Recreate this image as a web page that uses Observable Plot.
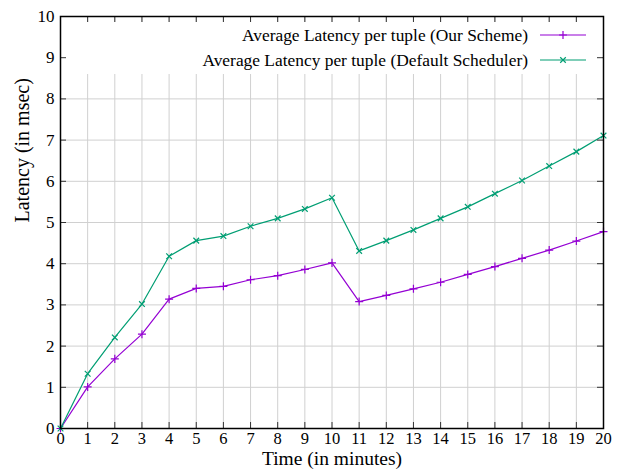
<!DOCTYPE html>
<html>
<head>
<meta charset="utf-8">
<script src="https://cdn.jsdelivr.net/npm/d3@7"></script>
<script src="https://cdn.jsdelivr.net/npm/@observablehq/plot@0.6"></script>
<style>
  html, body { margin: 0; padding: 0; background: #fff; }
  #chart svg { display: block; }
  #chart svg text { font-family: "Liberation Serif", "Times New Roman", serif; }
</style>
</head>
<body>
<div id="chart"></div>
<script>
// Time in minutes
const minutes = [0, 1, 2, 3, 4, 5, 6, 7, 8, 9, 10, 11, 12, 13, 14, 15, 16, 17, 18, 19, 20];
// Average latency per tuple, msec
const ourScheme = [0, 1.01, 1.69, 2.29, 3.14, 3.40, 3.45, 3.61, 3.71, 3.86, 4.02,
                   3.08, 3.23, 3.39, 3.55, 3.74, 3.93, 4.13, 4.33, 4.55, 4.78];
const defaultScheduler = [0, 1.33, 2.21, 3.02, 4.18, 4.56, 4.67, 4.91, 5.10, 5.33, 5.60,
                          4.31, 4.56, 4.82, 5.10, 5.38, 5.70, 6.02, 6.37, 6.72, 7.11];
const xTicks = d3.range(0, 21);
const yTicks = d3.range(0, 11);

const series = [
  {name: "Average Latency per tuple (Our Scheme)", values: ourScheme, color: "#9400d3", symbol: "plus"},
  {name: "Average Latency per tuple (Default Scheduler)", values: defaultScheduler, color: "#009e73", symbol: "times"}
];
const rows = series.flatMap(s => minutes.map((m, i) => ({series: s.name, t: m, v: s.values[i]})));

const W = 626, H = 473;
const mL = 60, mR = 23, mT = 16, mB = 45;
const fw = W - mL - mR, fh = H - mT - mB;
const tickLen = 6;
const font = "Liberation Serif";

// Key: opaque box across the top of the frame, with sample lines
function key(index, scales, values, dims) {
  const g = d3.create("svg:g");
  g.append("rect")
    .attr("x", dims.marginLeft + 1).attr("y", dims.marginTop + 6)
    .attr("width", dims.width - dims.marginLeft - dims.marginRight - 2)
    .attr("height", 52).attr("fill", "#fff");
  series.forEach((s, i) => {
    const cy = dims.marginTop + 19 + i * 25;
    const xr = dims.width - dims.marginRight;
    g.append("text")
      .attr("x", xr - 75).attr("y", cy).attr("dy", "0.35em")
      .attr("text-anchor", "end").attr("font-size", 17.4)
      .attr("fill", "#000").text(s.name);
    g.append("line")
      .attr("x1", xr - 63).attr("x2", xr - 17).attr("y1", cy).attr("y2", cy)
      .attr("stroke", s.color).attr("stroke-width", 1.2);
    const sym = d3.symbol(s.symbol === "plus" ? d3.symbolPlus : d3.symbolTimes, 22);
    g.append("path").attr("d", sym()).attr("transform", `translate(${xr - 40},${cy})`)
      .attr("fill", "none").attr("stroke", s.color).attr("stroke-width", 1.2);
  });
  return g.node();
}

const chart = Plot.plot({
  width: W, height: H,
  marginLeft: mL, marginRight: mR, marginTop: mT, marginBottom: mB,
  style: {fontFamily: font, fontSize: "17px", color: "#000", background: "#fff"},
  x: {domain: [0, 20], ticks: xTicks, label: null},
  y: {domain: [0, 10], ticks: yTicks, label: null},
  color: {domain: series.map(s => s.name), range: series.map(s => s.color)},
  symbol: {domain: series.map(s => s.name), range: series.map(s => s.symbol)},
  marks: [
    Plot.gridX(xTicks, {stroke: "#d0d0d0", strokeOpacity: 1, strokeWidth: 1}),
    Plot.gridY(yTicks, {stroke: "#d0d0d0", strokeOpacity: 1, strokeWidth: 1}),
    key,
    Plot.line(rows, {x: "t", y: "v", z: "series", stroke: "series", strokeWidth: 1.2}),
    Plot.dot(rows, {x: "t", y: "v", symbol: "series", stroke: "series", r: 2.7, strokeWidth: 1.2}),
    // inward ticks on all four sides
    Plot.tickX(xTicks, {x: d => d, insetTop: fh - tickLen, stroke: "#333"}),
    Plot.tickX(xTicks, {x: d => d, insetBottom: fh - tickLen, stroke: "#333"}),
    Plot.tickY(yTicks, {y: d => d, insetRight: fw - tickLen, stroke: "#333"}),
    Plot.tickY(yTicks, {y: d => d, insetLeft: fw - tickLen, stroke: "#333"}),
    Plot.axisX(xTicks, {tickSize: 0, tickPadding: 4, label: null, fontSize: 16.5, fontFamily: font}),
    Plot.axisY(yTicks, {tickSize: 0, tickPadding: 6, label: null, fontSize: 17, fontFamily: font}),
    Plot.frame({stroke: "#000", strokeWidth: 1.5}),
    Plot.text(["Time (in minutes)"], {frameAnchor: "bottom", dy: 36, fontSize: 19.5, fill: "#000", fontFamily: font}),
    Plot.text(["Latency (in msec)"], {frameAnchor: "left", dx: -38, rotate: -90, fontSize: 20, fill: "#000", fontFamily: font})
  ]
});
document.getElementById("chart").append(chart);
</script>
</body>
</html>
